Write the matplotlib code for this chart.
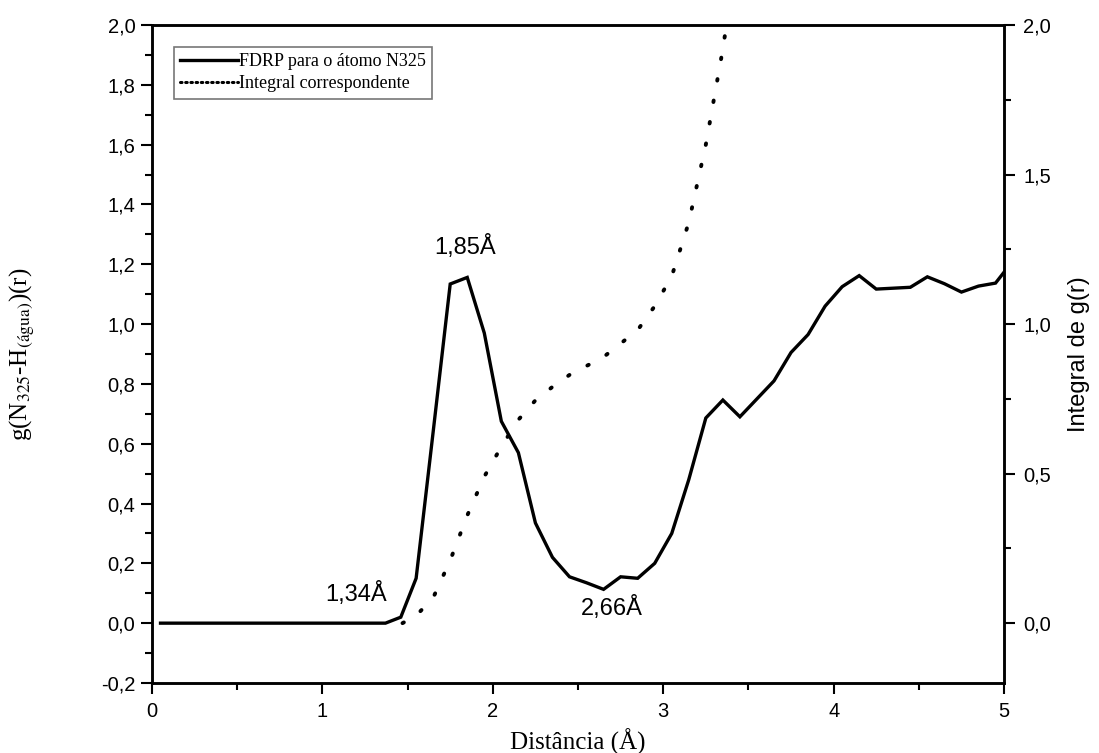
import matplotlib
matplotlib.use("Agg")
import matplotlib.pyplot as plt
from matplotlib.lines import Line2D
from matplotlib.ticker import FuncFormatter, MultipleLocator

# ---- data ----
r_gr = [0.05, 0.15, 0.25, 0.35, 0.45, 0.55, 0.65, 0.75, 0.85, 0.95, 1.05, 1.15, 1.25,
        1.37, 1.46, 1.55, 1.65, 1.75, 1.85, 1.95, 2.05, 2.15, 2.25, 2.35, 2.45, 2.55,
        2.65, 2.75, 2.85, 2.95, 3.05, 3.15, 3.25, 3.35, 3.45, 3.55, 3.65, 3.75, 3.85,
        3.95, 4.05, 4.15, 4.25, 4.35, 4.45, 4.55, 4.65, 4.75, 4.85, 4.95, 5.05]
g_r = [0.0, 0.0, 0.0, 0.0, 0.0, 0.0, 0.0, 0.0, 0.0, 0.0, 0.0, 0.0, 0.0,
       0.0, 0.02, 0.15, 0.64, 1.134, 1.156, 0.97, 0.675, 0.57, 0.335, 0.22, 0.155, 0.135,
       0.113, 0.155, 0.15, 0.2, 0.30, 0.48, 0.686, 0.746, 0.69, 0.75, 0.81, 0.905, 0.965,
       1.06, 1.125, 1.162, 1.117, 1.12, 1.123, 1.158, 1.135, 1.107, 1.127, 1.137, 1.21]

r_int = [1.47, 1.55, 1.65, 1.75, 1.85, 1.95,
         2.05, 2.15, 2.25, 2.35, 2.45, 2.55, 2.65, 2.75, 2.85, 2.95, 3.05, 3.15, 3.25,
         3.35, 3.45]
integral = [0.0, 0.025, 0.085, 0.21, 0.36, 0.49,
            0.59, 0.68, 0.745, 0.79, 0.83, 0.86, 0.89, 0.935, 0.98, 1.06, 1.16, 1.34, 1.6,
            1.92, 2.3]

annotations = [("1,85Å", 1.84, 1.257), ("1,34Å", 1.20, 0.097), ("2,66Å", 2.70, 0.05)]

label_gr = "FDRP para o átomo N325"
label_int = "Integral correspondente"

# ---- figure ----
plt.rcParams['mathtext.fontset'] = 'stix'
fig = plt.figure(figsize=(10.99, 7.53), dpi=100)
ax = fig.add_axes([0.1383, 0.0930, 0.9136 - 0.1383, 0.9668 - 0.0930])
ax2 = ax.twinx()

comma = FuncFormatter(lambda v, p: f"{v:.1f}".replace(".", ","))
intfmt = FuncFormatter(lambda v, p: f"{v:g}")

l1, = ax.plot(r_gr, g_r, color='black', lw=2.4, solid_joinstyle='miter', zorder=3)
l2, = ax2.plot(r_int, integral, color='black', lw=2.8, linestyle=(0, (0.4, 5.2)),
               dash_capstyle='round', zorder=2)

ax.set_xlim(0, 5)
ax.set_ylim(-0.2, 2.0)
ax2.set_ylim(-0.2, 2.0)

ax.xaxis.set_major_locator(MultipleLocator(1))
ax.xaxis.set_minor_locator(MultipleLocator(0.5))
ax.yaxis.set_major_locator(MultipleLocator(0.2))
ax.yaxis.set_minor_locator(MultipleLocator(0.1))
ax.yaxis.set_major_formatter(comma)
ax.xaxis.set_major_formatter(intfmt)
ax2.yaxis.set_major_locator(MultipleLocator(0.5))
ax2.yaxis.set_minor_locator(MultipleLocator(0.25))
ax2.set_yticks([0.0, 0.5, 1.0, 1.5, 2.0])
ax2.yaxis.set_major_formatter(comma)

for a in (ax, ax2):
    a.tick_params(which='major', direction='out', length=8, width=1.5, labelsize=14.5)
    a.tick_params(which='minor', direction='out', length=5, width=1.5)
    for s in a.spines.values():
        s.set_linewidth(1.8)
    for lab in a.get_xticklabels() + a.get_yticklabels():
        lab.set_fontfamily('Liberation Sans')
ax.tick_params(axis='x', pad=6)
ax.tick_params(axis='y', pad=4)
ax2.tick_params(axis='y', pad=6)

ax.set_xlabel("Distância (Å)", family='Liberation Serif', size=18, labelpad=5)
ax.set_ylabel(r"g(N$_{325}$-H$_{(\mathrm{água})}$)(r)", family='Liberation Serif',
              size=18, labelpad=46)
ax2.set_ylabel("Integral de g(r)", family='Liberation Sans', size=17, labelpad=12)

for txt, x, y in annotations:
    ax.text(x, y, txt, ha='center', va='center', family='Liberation Sans', size=17)

h1 = Line2D([], [], color='black', lw=2.4)
h2 = Line2D([], [], color='black', lw=2.2, linestyle=(0, (0.5, 1.2)), dash_capstyle='round')
leg = ax.legend([h1, h2], [label_gr, label_int], loc='upper left',
                bbox_to_anchor=(0.026, 0.967), borderaxespad=0, fancybox=False,
                prop=dict(family='Liberation Serif', size=13), handlelength=3.2,
                handletextpad=0.05, borderpad=0.35, labelspacing=0.3, framealpha=1)
leg.get_frame().set_edgecolor('#777777')
leg.get_frame().set_linewidth(1.2)
leg.set_zorder(10)

fig.savefig("out.png", dpi=100)
